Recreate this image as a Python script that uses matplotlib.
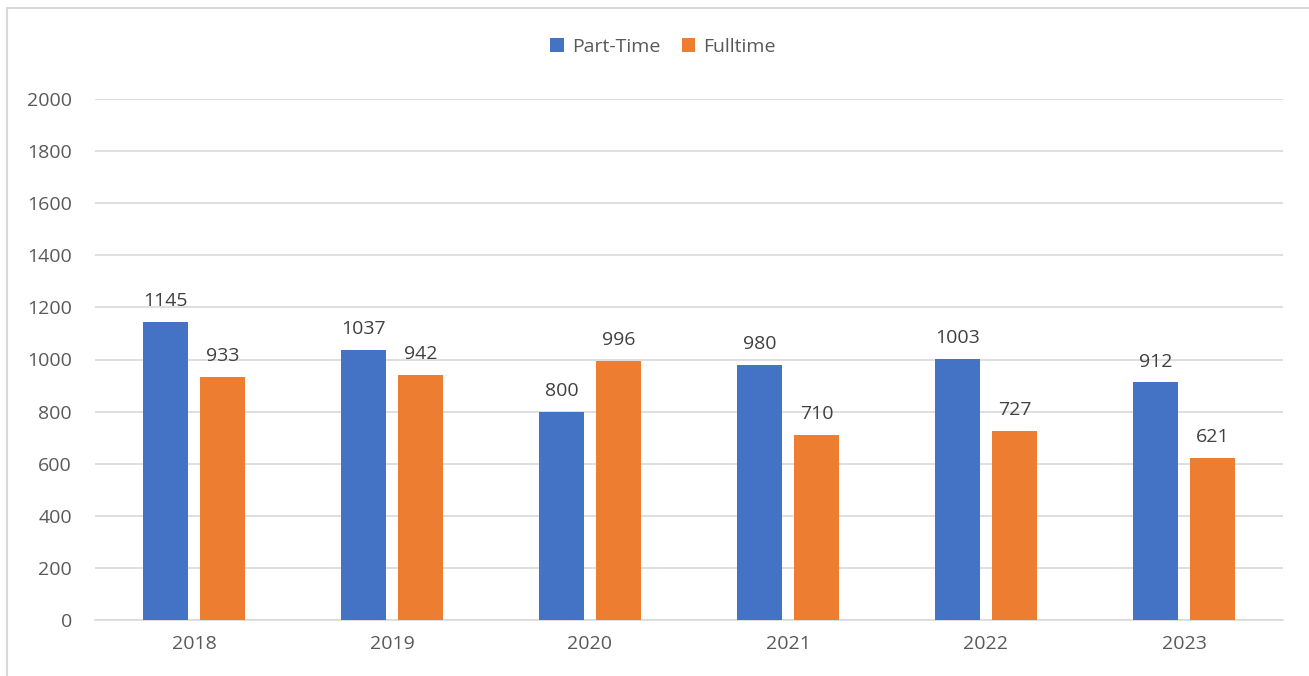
import matplotlib.pyplot as plt
import numpy as np
from matplotlib.patches import Rectangle

years = ["2018", "2019", "2020", "2021", "2022", "2023"]
part_time = [1145, 1037, 800, 980, 1003, 912]
fulltime = [933, 942, 996, 710, 727, 621]

plt.rcParams["font.family"] = ["Open Sans", "DejaVu Sans"]
txt = "#595959"

fig = plt.figure(figsize=(13.09, 6.76), dpi=100)
ax = fig.add_axes([95 / 1309, 1 - 620 / 676, 1188 / 1309, 521 / 676])

x = np.arange(len(years))
w = 0.227
off = 0.144
b1 = ax.bar(x - off, part_time, w, color="#4472C4", label="Part-Time", zorder=3)
b2 = ax.bar(x + off, fulltime, w, color="#ED7D31", label="Fulltime", zorder=3)

for bars, vals in ((b1, part_time), (b2, fulltime)):
    for r, v in zip(bars, vals):
        ax.annotate(str(v), (r.get_x() + r.get_width() / 2, v), xytext=(0, 8.5),
                    textcoords="offset points", ha="center", va="bottom",
                    fontsize=14, color="#404040")

ax.set_xlim(-0.5, len(years) - 0.5)
ax.set_ylim(0, 2000)
ax.set_yticks(range(0, 2001, 200))
ax.set_xticks(x)
ax.set_xticklabels(years)
ax.yaxis.grid(True, color="#D9D9D9", linewidth=1.2, zorder=0)
ax.tick_params(length=0, labelsize=14, labelcolor=txt)
ax.tick_params(axis="y", pad=16.5)
ax.tick_params(axis="x", pad=11)
for s in ["top", "right", "left"]:
    ax.spines[s].set_visible(False)
ax.spines["bottom"].set_color("#D9D9D9")
ax.spines["bottom"].set_linewidth(1.2)

fig.legend(loc="center", bbox_to_anchor=(663 / 1309, 1 - 47 / 676), ncol=2,
           frameon=False, fontsize=14, labelcolor=txt, handlelength=0.7,
           handleheight=0.7, handletextpad=0.4, columnspacing=1.1)

fig.patches.append(Rectangle((7 / 1309, -0.1), 1.2, 1 - 8 / 676 + 0.1,
                             transform=fig.transFigure, fill=False,
                             edgecolor="#D9D9D9", linewidth=1.5))

fig.savefig("out.png", dpi=100)
